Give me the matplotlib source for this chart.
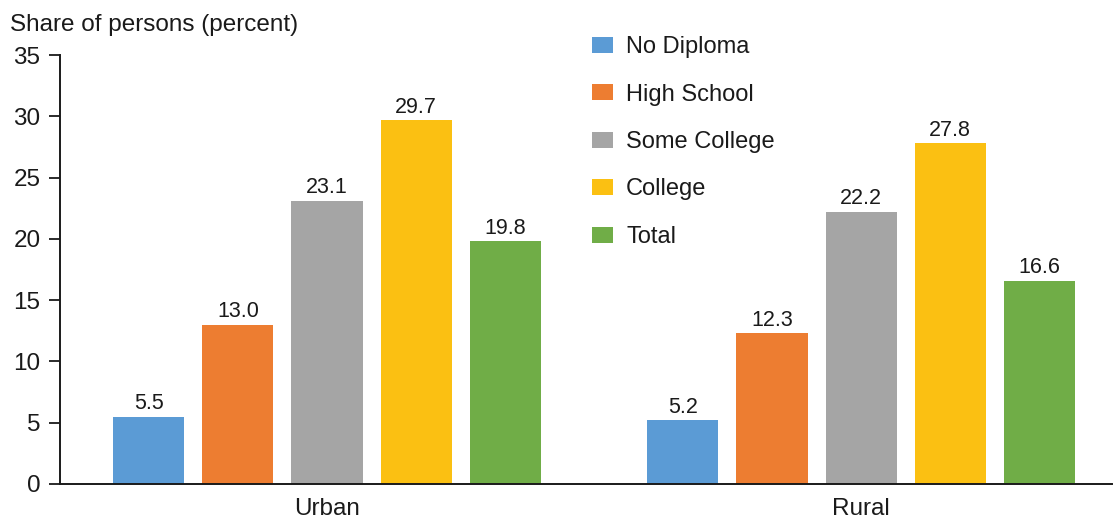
import matplotlib
matplotlib.use("Agg")
import matplotlib.pyplot as plt
from matplotlib.patches import Patch
import numpy as np

plt.rcParams['font.family'] = ['Liberation Sans', 'DejaVu Sans']

regions = ["Urban", "Rural"]
series = ["No Diploma", "High School", "Some College", "College", "Total"]
no_diploma = [5.5, 5.2]
high_school = [13.0, 12.3]
some_college = [23.1, 22.2]
college = [29.7, 27.8]
total = [19.8, 16.6]
y_ticks = [0, 5, 10, 15, 20, 25, 30, 35]

values = [no_diploma, high_school, some_college, college, total]
colors = ["#5B9BD5", "#ED7D31", "#A5A5A5", "#FBC012", "#70AD47"]

fig = plt.figure(figsize=(11.15, 5.18), dpi=100)
ax = fig.add_axes([60 / 1115, 1 - 484 / 518, (1112 - 60) / 1115, (484 - 55) / 518])

x = np.arange(len(regions))
step = 0.1667
width = 0.133
for i, (vals, col) in enumerate(zip(values, colors)):
    pos = x + (i - 2) * step
    ax.bar(pos, vals, width=width, color=col, zorder=2)
    for p, v in zip(pos, vals):
        ax.text(p, v + 0.2, f"{v:.1f}", ha="center", va="bottom", fontsize=15.5, color="#1a1a1a")

ax.set_xlim(-0.5, 1.47)
ax.set_ylim(0, 35)
ax.set_yticks(y_ticks)
ax.set_xticks(x)
ax.set_xticklabels(regions)
ax.tick_params(axis="y", labelsize=17.5, length=8, width=1.3, direction="out", pad=6, colors="#1a1a1a")
ax.tick_params(axis="x", labelsize=17.5, length=0, pad=10, colors="#1a1a1a")
for s in ["top", "right"]:
    ax.spines[s].set_visible(False)
ax.spines["left"].set_linewidth(1.4)
ax.spines["bottom"].set_linewidth(1.4)
ax.spines["left"].set_color("#1a1a1a")
ax.spines["bottom"].set_color("#1a1a1a")

fig.text(10 / 1115, 1 - 25 / 518, "Share of persons (percent)", fontsize=17.5, va="center", ha="left", color="#1a1a1a")

handles = [Patch(facecolor=c, edgecolor="none") for c in colors]
fig.legend(handles, series, loc="upper left", bbox_to_anchor=(592 / 1115, 1 - 36 / 518),
           frameon=False, fontsize=17, labelspacing=1.08, handlelength=0.9, handleheight=0.65,
           handletextpad=0.55, borderaxespad=0, borderpad=0, labelcolor="#1a1a1a")

fig.savefig("out.png", dpi=100)
